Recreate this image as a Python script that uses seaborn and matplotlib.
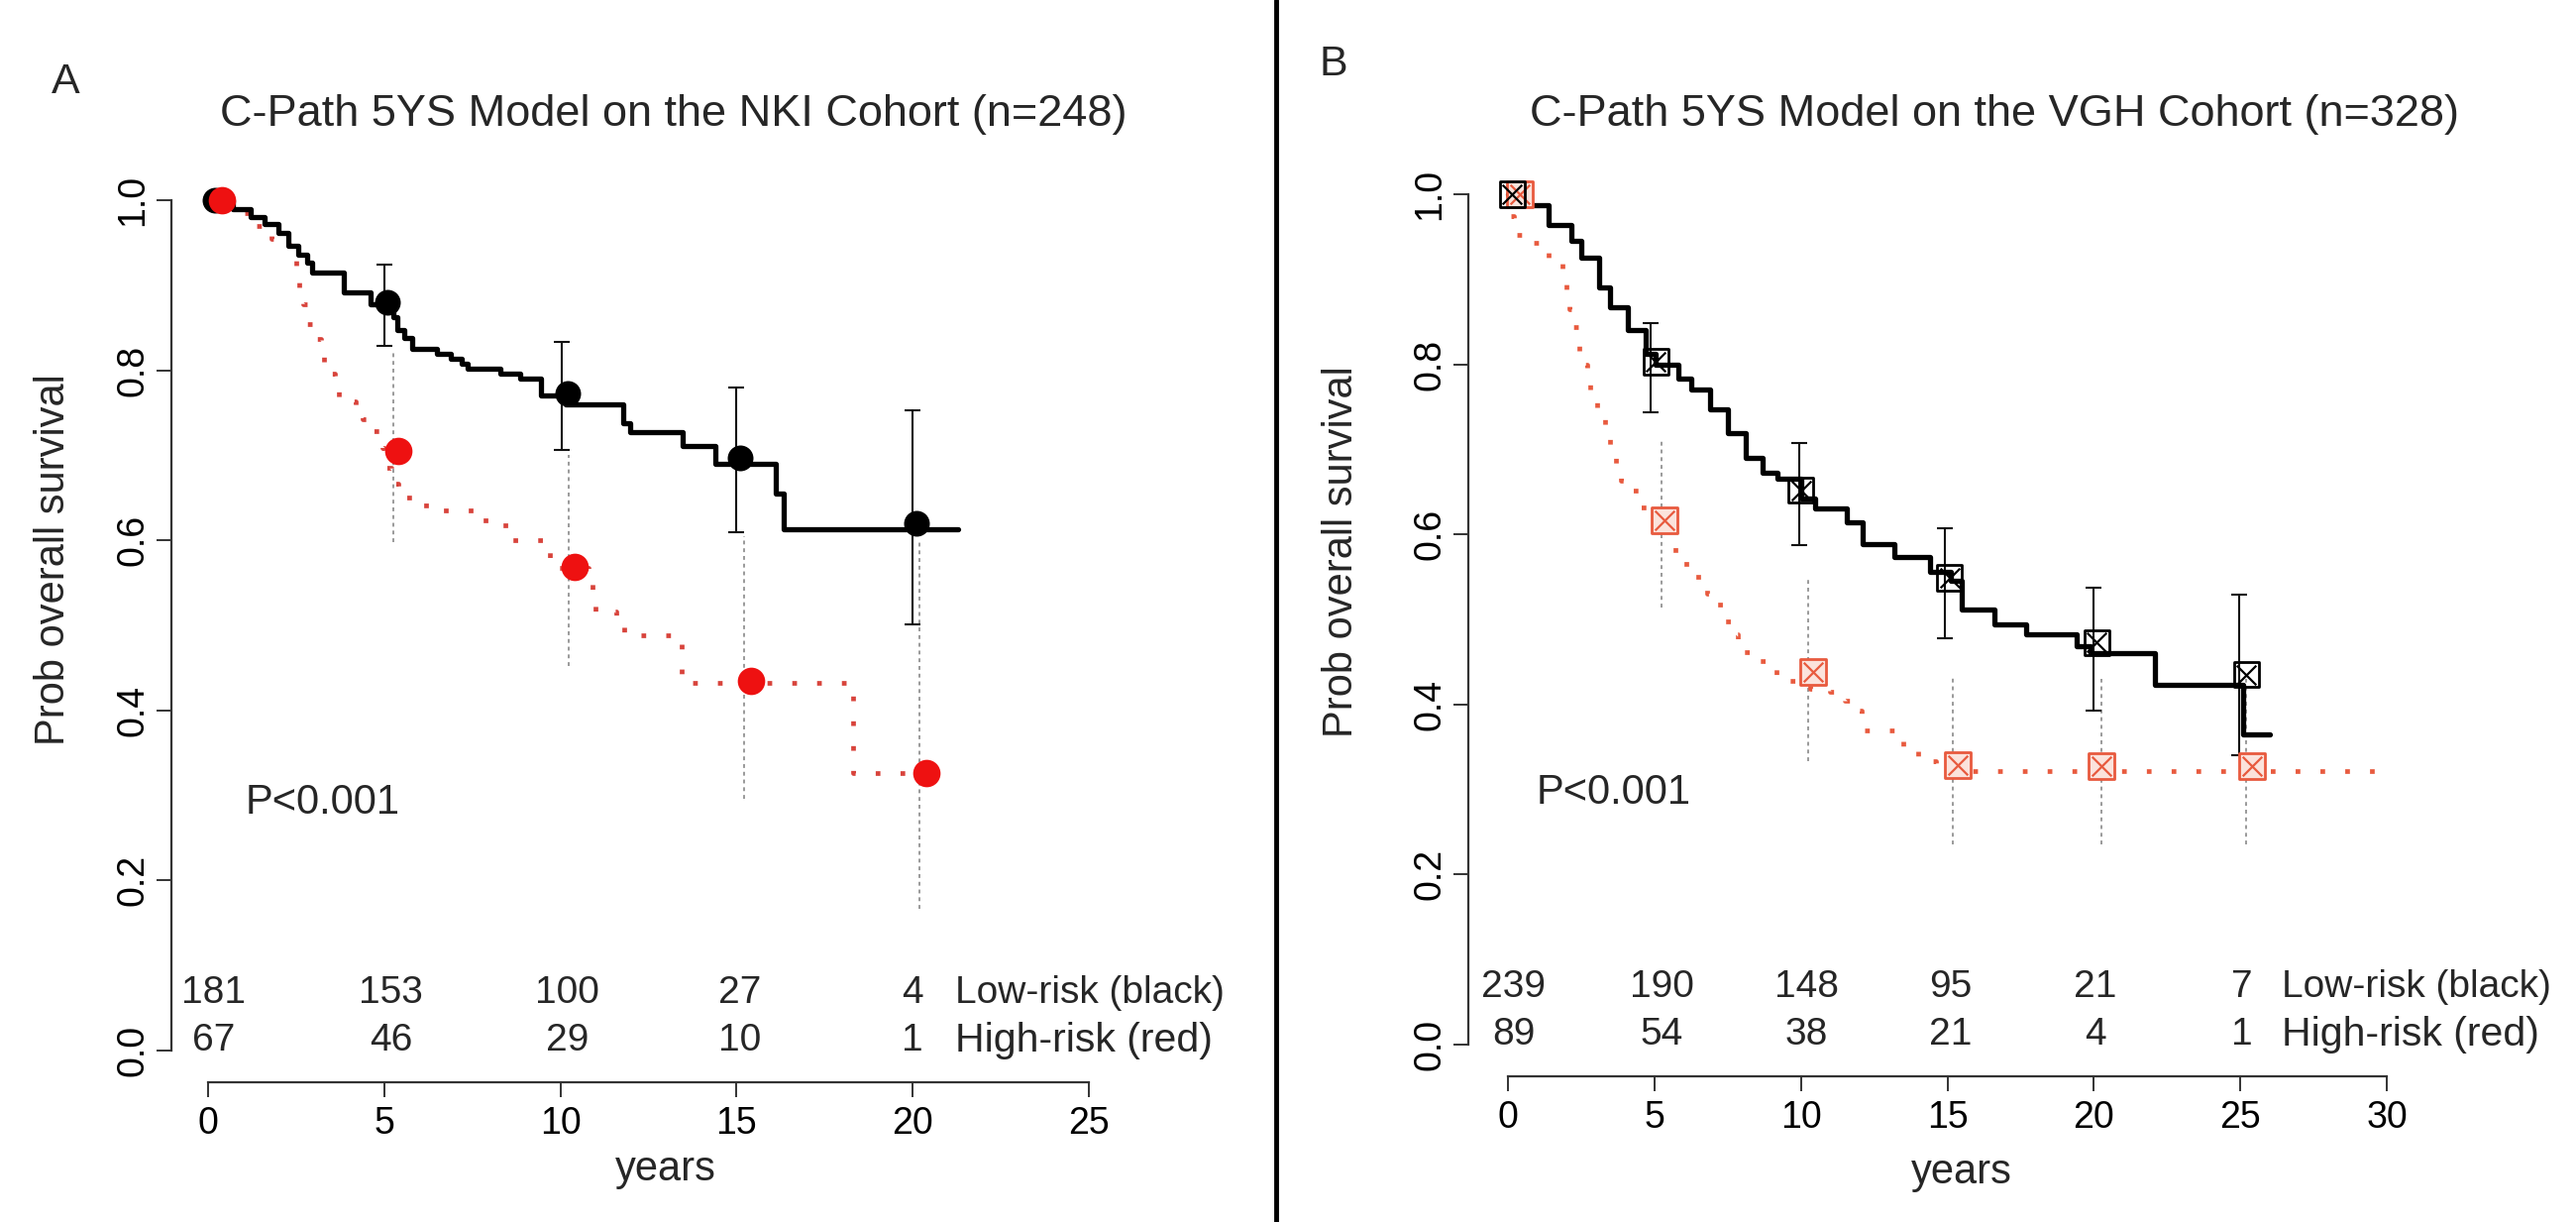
import numpy as np
import pandas as pd
import seaborn as sns
import matplotlib
matplotlib.use('Agg')
import matplotlib.pyplot as plt
from matplotlib.lines import Line2D

# ---------------- Panel A : NKI cohort ----------------
a_title = 'C-Path 5YS Model on the NKI Cohort (n=248)'
a_low_t = [0, 0.7, 1.2, 1.6, 2.0, 2.27, 2.56, 2.8, 2.95, 3.86, 4.6, 5.27, 5.37, 5.57, 5.8,
           6.5, 6.9, 7.2, 7.36, 8.3, 8.85, 9.45, 10.15, 11.77, 11.97, 13.47, 14.4, 16.1,
           16.35, 21.3]
a_low_s = [1.0, 0.99, 0.98, 0.972, 0.962, 0.946, 0.936, 0.926, 0.915, 0.892, 0.878, 0.862,
           0.847, 0.838, 0.825, 0.819, 0.813, 0.808, 0.802, 0.796, 0.79, 0.77, 0.76, 0.738,
           0.727, 0.711, 0.69, 0.655, 0.613, 0.613]
a_high_t = [0, 0.7, 1.2, 1.8, 2.3, 2.5, 2.6, 2.7, 2.8, 3.0, 3.2, 3.3, 3.6, 3.7, 4.2, 4.4,
            4.7, 4.95, 5.0, 5.2, 5.4, 6.2, 7.8, 8.3, 8.6, 9.5, 9.7, 10.8, 10.9, 11.0, 11.6,
            11.8, 13.45, 18.3, 20.4]
a_high_s = [1.0, 0.985, 0.97, 0.955, 0.935, 0.92, 0.897, 0.878, 0.854, 0.837, 0.822, 0.796,
            0.783, 0.763, 0.757, 0.742, 0.728, 0.709, 0.685, 0.667, 0.65, 0.635, 0.623, 0.618,
            0.6, 0.591, 0.568, 0.563, 0.54, 0.516, 0.505, 0.488, 0.432, 0.326, 0.326]
a_low_mark_t = [0.2, 5.1, 10.2, 15.1, 20.1]
a_low_mark_s = [1.0, 0.88, 0.773, 0.697, 0.62]
a_high_mark_t = [0.4, 5.4, 10.4, 15.4, 20.4]
a_high_mark_s = [1.0, 0.705, 0.569, 0.435, 0.326]
a_low_ci_t = [5.0, 10.05, 15.0, 20.0]
a_low_ci_lo = [0.829, 0.706, 0.609, 0.501]
a_low_ci_hi = [0.924, 0.833, 0.78, 0.753]
a_high_ci_t = [5.25, 10.25, 15.2, 20.2]
a_high_ci_lo = [0.598, 0.452, 0.296, 0.167]
a_high_ci_hi = [0.82, 0.70, 0.605, 0.60]
a_risk_t = [0.15, 5.2, 10.2, 15.1, 20.0]
a_risk_low = ['181', '153', '100', '27', '4']
a_risk_high = ['67', '46', '29', '10', '1']
a_xticks = [0, 5, 10, 15, 20, 25]

# ---------------- Panel B : VGH cohort ----------------
b_title = 'C-Path 5YS Model on the VGH Cohort (n=328)'
b_low_t = [0, 0.7, 1.4, 2.15, 2.5, 3.1, 3.5, 4.1, 4.7, 5.05, 5.8, 6.25, 6.9, 7.5, 8.1, 8.7,
           9.2, 10.0, 10.5, 11.55, 12.1, 13.2, 14.4, 15.1, 15.5, 16.6, 17.7, 19.4, 19.9,
           22.1, 25.1, 26.0]
b_low_s = [1.0, 0.987, 0.964, 0.945, 0.925, 0.89, 0.867, 0.84, 0.812, 0.80, 0.783, 0.77,
           0.747, 0.719, 0.69, 0.672, 0.665, 0.642, 0.63, 0.614, 0.588, 0.574, 0.556, 0.545,
           0.512, 0.494, 0.482, 0.468, 0.46, 0.423, 0.365, 0.365]
b_high_t = [0, 0.05, 0.2, 0.6, 1.3, 1.4, 1.85, 2.0, 2.1, 2.2, 2.4, 2.45, 2.7, 2.8, 3.05, 3.3,
            3.5, 3.67, 3.85, 4.2, 4.45, 4.8, 5.5, 5.7, 6.1, 6.5, 6.8, 7.1, 7.4, 7.7, 7.85,
            8.3, 8.8, 9.15, 10.3, 11.0, 11.5, 11.9, 12.06, 13.5, 14.0, 14.6, 29.6]
b_high_s = [1.0, 0.974, 0.952, 0.943, 0.939, 0.92, 0.908, 0.888, 0.865, 0.844, 0.823, 0.80,
            0.782, 0.76, 0.741, 0.721, 0.702, 0.68, 0.663, 0.651, 0.632, 0.622, 0.61, 0.573,
            0.56, 0.547, 0.53, 0.517, 0.498, 0.482, 0.461, 0.451, 0.444, 0.428, 0.418, 0.415,
            0.405, 0.393, 0.37, 0.348, 0.333, 0.322, 0.322]
b_low_mark_t = [0.15, 5.05, 10.0, 15.07, 20.1, 25.2]
b_low_mark_s = [1.0, 0.803, 0.652, 0.549, 0.473, 0.435]
b_high_mark_t = [0.4, 5.35, 10.4, 15.35, 20.25, 25.4]
b_high_mark_s = [1.0, 0.617, 0.438, 0.329, 0.327, 0.327]
b_low_ci_t = [4.87, 9.95, 14.9, 19.97, 24.96]
b_low_ci_lo = [0.744, 0.587, 0.478, 0.393, 0.34]
b_low_ci_hi = [0.848, 0.707, 0.607, 0.537, 0.529]
b_high_ci_t = [5.23, 10.25, 15.2, 20.25, 25.2]
b_high_ci_lo = [0.514, 0.333, 0.235, 0.235, 0.235]
b_high_ci_hi = [0.712, 0.547, 0.433, 0.43, 0.43]
b_risk_t = [0.2, 5.25, 10.2, 15.1, 20.05, 25.05]
b_risk_low = ['239', '190', '148', '95', '21', '7']
b_risk_high = ['89', '54', '38', '21', '4', '1']
b_xticks = [0, 5, 10, 15, 20, 25, 30]

yticks = [0.0, 0.2, 0.4, 0.6, 0.8, 1.0]

sns.set_theme(style='white')
plt.rcParams['font.family'] = ['Liberation Sans', 'DejaVu Sans']

W, H = 2600, 1233
fig = plt.figure(figsize=(W / 100, H / 100), dpi=100)
fig.patch.set_facecolor('white')


def make_axes(x0px, xscale, y0px, yscale, xlim, ylim):
    left = x0px + xscale * xlim[0]
    right = x0px + xscale * xlim[1]
    top = y0px - yscale * ylim[1]
    bottom = y0px - yscale * ylim[0]
    ax = fig.add_axes([left / W, 1 - bottom / H, (right - left) / W, (bottom - top) / H])
    ax.set_xlim(*xlim)
    ax.set_ylim(*ylim)
    return ax


def draw_panel(ax, low_t, low_s, high_t, high_s, lm_t, lm_s, hm_t, hm_s,
               lci_t, lci_lo, lci_hi, hci_t, hci_lo, hci_hi,
               risk_t, risk_low, risk_high, label_t, xticks, red, square):
    # grey dotted CI for high-risk group
    ax.vlines(hci_t, hci_lo, hci_hi, colors='#9a9a9a', linewidth=1.4,
              linestyles=(0, (2, 2)), zorder=1)
    # black CI for low-risk group
    ax.errorbar(lci_t, [(a + b) / 2 for a, b in zip(lci_lo, lci_hi)],
                yerr=[[(b - a) / 2 for a, b in zip(lci_lo, lci_hi)]] * 2,
                fmt='none', ecolor='#111111', elinewidth=1.5, capsize=5.5,
                capthick=1.5, zorder=2)
    d_low = pd.DataFrame({'t': low_t, 's': low_s})
    d_high = pd.DataFrame({'t': high_t, 's': high_s})
    sns.lineplot(data=d_high, x='t', y='s', ax=ax, color=red, linewidth=3.4,
                 linestyle=(0, (1.0, 4.3)), drawstyle='steps-post',
                 estimator=None, sort=False, zorder=3)
    sns.lineplot(data=d_low, x='t', y='s', ax=ax, color='black', linewidth=3.8,
                 drawstyle='steps-post', estimator=None, sort=False, zorder=4)
    if square:
        sns.scatterplot(x=hm_t, y=hm_s, ax=ax, marker='s', s=330, color=red,
                        facecolor='#fbe3dc', edgecolor=red, linewidth=2, zorder=5)
        sns.scatterplot(x=hm_t, y=hm_s, ax=ax, marker='x', s=200, color=red,
                        linewidth=1.6, zorder=6)
        sns.scatterplot(x=lm_t, y=lm_s, ax=ax, marker='s', s=330, color='black',
                        facecolor='none', edgecolor='black', linewidth=2, zorder=7)
        sns.scatterplot(x=lm_t, y=lm_s, ax=ax, marker='x', s=200, color='black',
                        linewidth=1.6, zorder=8)
    else:
        sns.scatterplot(x=lm_t, y=lm_s, ax=ax, marker='o', s=300, color='black',
                        edgecolor='black', zorder=5)
        sns.scatterplot(x=hm_t, y=hm_s, ax=ax, marker='o', s=340, color='#ee1111',
                        edgecolor='#ee1111', zorder=6)
    for t, lo, hi in zip(risk_t, risk_low, risk_high):
        ax.text(t, 0.068, lo, ha='center', va='center', fontsize=28, clip_on=False)
        ax.text(t, 0.012, hi, ha='center', va='center', fontsize=28, clip_on=False)
    ax.text(label_t, 0.068, 'Low-risk (black)', ha='left', va='center', fontsize=28,
            clip_on=False)
    ax.text(label_t, 0.012, 'High-risk (red)', ha='left', va='center', fontsize=29.5,
            clip_on=False)

    ax.set_xticks(xticks)
    ax.set_xticklabels([str(x) for x in xticks])
    ax.set_yticks(yticks)
    ax.set_yticklabels([f'{y:.1f}' for y in yticks], rotation=90, va='center')
    ax.set_xlabel('')
    ax.set_ylabel('')
    for side in ['top', 'right']:
        ax.spines[side].set_visible(False)
    ax.spines['left'].set_bounds(0, 1)
    ax.spines['bottom'].set_bounds(xticks[0], xticks[-1])
    for side in ['left', 'bottom']:
        ax.spines[side].set_color('#333333')
        ax.spines[side].set_linewidth(1.6)
    ax.tick_params(axis='both', direction='out', length=11, width=1.4, color='#333333',
                   labelsize=27, labelcolor='black', left=True, bottom=True)
    ax.tick_params(axis='x', pad=6)
    ax.tick_params(axis='y', pad=4)
    ax.set_facecolor('white')


axA = make_axes(210, 35.56, 1060, 858, (-1.04, 25.5), (-0.0373, 1.02))
draw_panel(axA, a_low_t, a_low_s, a_high_t, a_high_s, a_low_mark_t, a_low_mark_s,
           a_high_mark_t, a_high_mark_s, a_low_ci_t, a_low_ci_lo, a_low_ci_hi,
           a_high_ci_t, a_high_ci_lo, a_high_ci_hi, a_risk_t, a_risk_low, a_risk_high,
           21.2, a_xticks, '#d8433b', square=False)
axA.text(1.07, 0.291, 'P<0.001', ha='left', va='center', fontsize=30)

axB = make_axes(1522, 29.57, 1054, 858, (-1.353, 30.5), (-0.0373, 1.02))
draw_panel(axB, b_low_t, b_low_s, b_high_t, b_high_s, b_low_mark_t, b_low_mark_s,
           b_high_mark_t, b_high_mark_s, b_low_ci_t, b_low_ci_lo, b_low_ci_hi,
           b_high_ci_t, b_high_ci_lo, b_high_ci_hi, b_risk_t, b_risk_low, b_risk_high,
           26.4, b_xticks, '#e85a3e', square=True)
axB.text(0.98, 0.296, 'P<0.001', ha='left', va='center', fontsize=30)


def ftext(xpx, ypx, s, **kw):
    fig.text(xpx / W, 1 - ypx / H, s, **kw)


ftext(680, 115, a_title, ha='center', va='center', fontsize=32.5)
ftext(2013, 115, b_title, ha='center', va='center', fontsize=32.5)
ftext(66, 83, 'A', ha='center', va='center', fontsize=31)
ftext(1346, 65, 'B', ha='center', va='center', fontsize=31)
ftext(54, 565, 'Prob overall survival', ha='center', va='center', rotation=90, fontsize=30)
ftext(1354, 557, 'Prob overall survival', ha='center', va='center', rotation=90, fontsize=30)
ftext(672, 1180, 'years', ha='center', va='center', fontsize=30)
ftext(1980, 1183, 'years', ha='center', va='center', fontsize=30)

fig.add_artist(Line2D([1288 / W, 1288 / W], [0, 1], color='black', linewidth=3.5))

fig.savefig('out.png', dpi=100, facecolor='white')
